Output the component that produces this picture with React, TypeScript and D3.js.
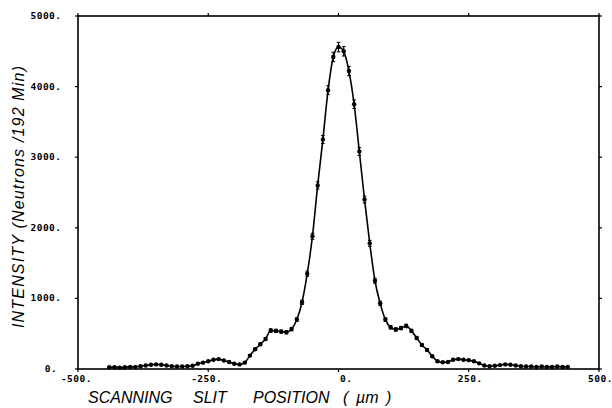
import React from 'react';
import * as d3 from 'd3';

// slit position (um) and counts per 192 min
const positions = [
  -440, -430, -420, -410, -400, -390, -380, -370, -360, -350, -340, -330, -320, -310, -300,
  -290, -280, -270, -260, -250, -240, -230, -220, -210, -200, -190, -180, -170, -160, -150,
  -140, -130, -120, -110, -100, -90, -80, -70, -60, -50, -40, -30, -20, -10, 0,
  10, 20, 30, 40, 50, 60, 70, 80, 90, 100, 110, 120, 130, 140, 150,
  160, 170, 180, 190, 200, 210, 220, 230, 240, 250, 260, 270, 280, 290, 300,
  310, 320, 330, 340, 350, 360, 370, 380, 390, 400, 410, 420, 430, 440,
];
const intensity = [
  25, 25, 20, 25, 30, 30, 40, 50, 60, 65, 60, 50, 40, 35, 35,
  40, 45, 75, 90, 110, 130, 140, 120, 100, 75, 65, 90, 190, 280, 350,
  425, 545, 540, 530, 520, 565, 700, 945, 1350, 1880, 2600, 3250, 3950, 4420, 4560,
  4500, 4220, 3750, 3080, 2400, 1780, 1250, 930, 700, 590, 560, 580, 610, 540, 440,
  340, 270, 180, 110, 95, 100, 130, 140, 130, 125, 110, 80, 50, 40, 45,
  55, 65, 60, 50, 40, 35, 35, 30, 35, 30, 30, 35, 30, 30,
];
const xTicks = [-500, -250, 0, 250, 500];
const yTicks = [0, 1000, 2000, 3000, 4000, 5000];

const W = 612;
const H = 408;
const margin = { top: 16, right: 13, bottom: 39, left: 78 };

export default function App() {
  const x = d3.scaleLinear().domain([-500, 500]).range([margin.left, W - margin.right]);
  const y = d3.scaleLinear().domain([0, 5000]).range([H - margin.bottom, margin.top]);

  const pts = positions.map((p, i) => ({ p, v: intensity[i] }));
  const line = d3
    .line<{ p: number; v: number }>()
    .x((d) => x(d.p))
    .y((d) => y(d.v))
    .curve(d3.curveMonotoneX);

  const x0 = x(-500);
  const x1 = x(500);
  const y0 = y(0);
  const y1 = y(5000);
  const tickFont = { fontFamily: '"DejaVu Sans Mono", monospace', fontSize: 9.5, fontWeight: 700 };
  const titleFont = { fontFamily: '"Liberation Sans", Arial, sans-serif', fontStyle: 'italic', fontSize: 16 };

  return (
    <svg
      width={W}
      height={H}
      style={{ position: 'absolute', left: 0, top: 0, background: '#fff' }}
    >
      <rect x={0} y={0} width={W} height={H} fill="#fff" />

      {/* frame */}
      <rect x={x0} y={y1} width={x1 - x0} height={y0 - y1} fill="none" stroke="#000" strokeWidth={1.6} />

      {/* ticks on all four sides, outward */}
      {xTicks.map((t) => (
        <g key={'xt' + t}>
          <line x1={x(t)} x2={x(t)} y1={y0} y2={y0 + 3} stroke="#000" strokeWidth={1.2} />
          <line x1={x(t)} x2={x(t)} y1={y1} y2={y1 - 3} stroke="#000" strokeWidth={1.2} />
          <text x={x(t) + 14} y={y0 + 13} textAnchor="end" style={tickFont} letterSpacing={0.5}>
            {t + '.'}
          </text>
        </g>
      ))}
      {yTicks.map((t) => (
        <g key={'yt' + t}>
          <line x1={x0} x2={x0 - 3} y1={y(t)} y2={y(t)} stroke="#000" strokeWidth={1.2} />
          <line x1={x1} x2={x1 + 3} y1={y(t)} y2={y(t)} stroke="#000" strokeWidth={1.2} />
          <text x={t === 0 ? 51 : 46} y={y(t) + 3} textAnchor="middle" style={tickFont} letterSpacing={0.5}>
            {t + '.'}
          </text>
        </g>
      ))}

      {/* fitted curve */}
      <path d={line(pts) || ''} fill="none" stroke="#000" strokeWidth={1.6} />

      {/* error bars (counting statistics) and points */}
      {pts.map((d) => {
        const e = Math.sqrt(d.v);
        return (
          <g key={'pt' + d.p}>
            <line x1={x(d.p)} x2={x(d.p)} y1={y(d.v - e)} y2={y(d.v + e)} stroke="#000" strokeWidth={1.2} />
            <line x1={x(d.p) - 1.8} x2={x(d.p) + 1.8} y1={y(d.v + e)} y2={y(d.v + e)} stroke="#000" strokeWidth={1} />
            <line x1={x(d.p) - 1.8} x2={x(d.p) + 1.8} y1={y(d.v - e)} y2={y(d.v - e)} stroke="#000" strokeWidth={1} />
            <circle cx={x(d.p)} cy={y(d.v)} r={2.2} fill="#000" />
          </g>
        );
      })}

      {/* axis titles */}
      <text y={403} style={titleFont}>
        <tspan x={88}>SCANNING</tspan>
        <tspan x={193}>SLIT</tspan>
        <tspan x={253}>POSITION</tspan>
        <tspan x={343}>(</tspan>
        <tspan x={356}>µm</tspan>
        <tspan x={386}>)</tspan>
      </text>
      <text
        transform={`translate(24,${197}) rotate(-90)`}
        textAnchor="middle"
        style={titleFont}
        fontSize={17}
        textLength={262}
        lengthAdjust="spacing"
      >
        INTENSITY (Neutrons /192 Min)
      </text>
    </svg>
  );
}
